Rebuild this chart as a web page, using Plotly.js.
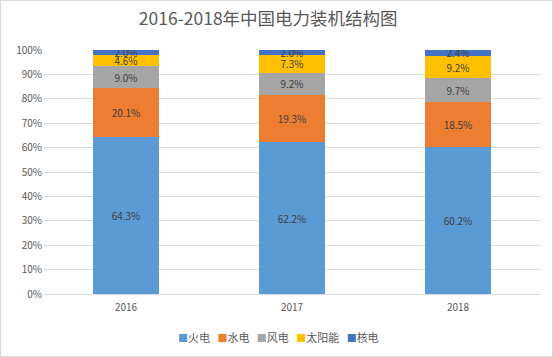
<!DOCTYPE html>
<html><head><meta charset="utf-8">
<script src="https://cdn.plot.ly/plotly-3.0.1.min.js"></script>
<style>html,body{margin:0;padding:0;background:#fff}#c{width:553px;height:357px;box-sizing:border-box;border:1px solid #d9d9d9}</style>
</head><body><div id="c"></div>
<script>
const years = ['2016', '2017', '2018'];
const seriesNames = ['火电', '水电', '风电', '太阳能', '核电'];
const thermal = [64.3, 62.2, 60.2];
const hydro = [20.1, 19.3, 18.5];
const wind = [9.0, 9.2, 9.7];
const solar = [4.6, 7.3, 9.2];
const nuclear = [2.0, 2.0, 2.4];
const colors = ['#5B9BD5', '#ED7D31', '#A5A5A5', '#FFC000', '#4472C4'];
const values = [thermal, hydro, wind, solar, nuclear];
const font = '"Microsoft YaHei", "Noto Sans CJK SC", "DejaVu Sans", sans-serif';
const traces = values.map((v, i) => ({
  type: 'bar', name: seriesNames[i], x: years, y: v,
  marker: {color: colors[i]},
  text: v.map(d => d.toFixed(1) + '%'),
  textposition: 'inside', insidetextanchor: 'middle', constraintext: 'none', textangle: 0,
  insidetextfont: {color: '#404040', size: 10, family: font},
  hoverinfo: 'none', showlegend: false
}));
// compact Excel-style legend built from the series names and colours
const legendText = seriesNames.map((n, i) =>
  '<span style="color:' + colors[i] + ';font-size:10px">■</span>' + n).join('&nbsp;&nbsp;&nbsp;');
Plotly.newPlot('c', traces, {
  width: 551, height: 355, barmode: 'stack', bargap: 0.6,
  margin: {l: 42, r: 11, t: 49, b: 62},
  paper_bgcolor: '#fff', plot_bgcolor: '#fff',
  font: {family: font, color: '#595959', size: 10},
  title: {text: '2016-2018年中国电力装机结构图', xref: 'container', x: 0.485, xanchor: 'center', y: 0.95, yanchor: 'middle', font: {size: 17.5, color: '#595959', family: font}},
  xaxis: {type: 'category', showline: true, linecolor: '#d9d9d9', ticks: '', ticklabelstandoff: 4, tickfont: {size: 10, color: '#595959'}},
  yaxis: {range: [0, 100], dtick: 10, ticksuffix: '%', gridcolor: '#d9d9d9', showline: false, zeroline: false, tickfont: {size: 10, color: '#595959'}},
  annotations: [{text: legendText, xref: 'paper', yref: 'paper', x: 0.472, y: -0.176, xanchor: 'center', yanchor: 'middle', showarrow: false, font: {size: 11, color: '#595959', family: font}}],
  showlegend: false
}, {staticPlot: true});
</script></body></html>
